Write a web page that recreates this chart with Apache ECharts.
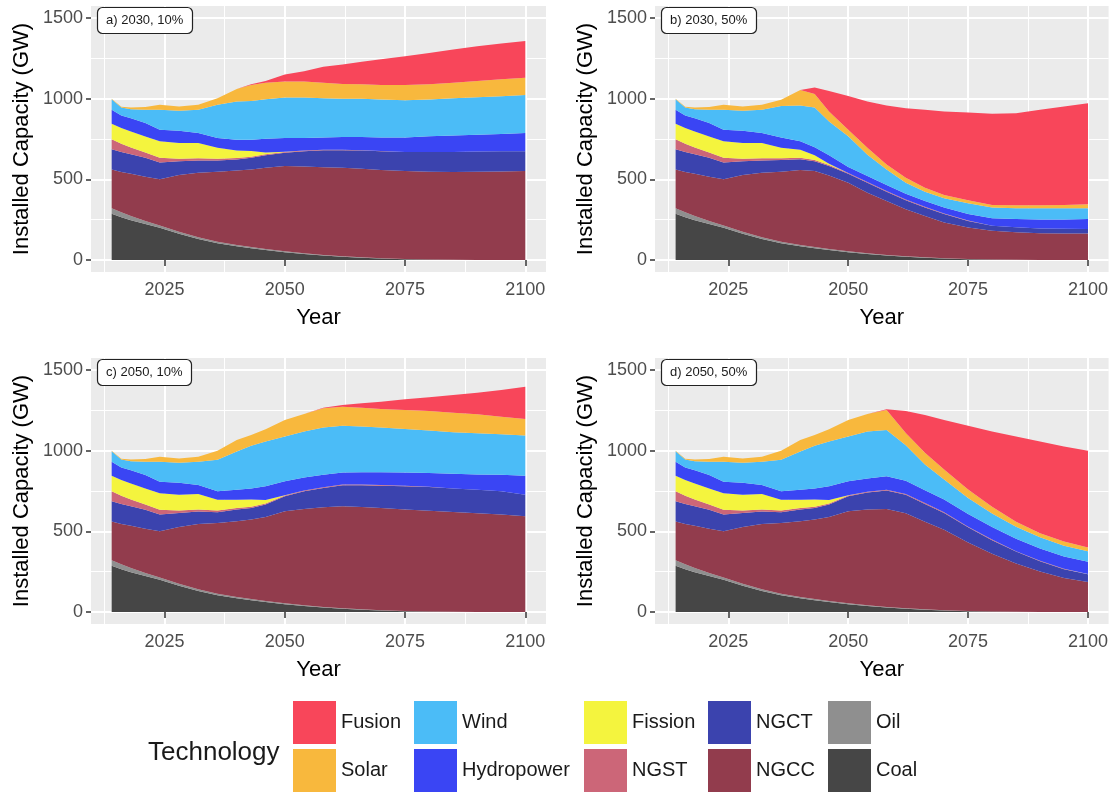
<!DOCTYPE html>
<html>
<head>
<meta charset="utf-8">
<script src="https://cdn.jsdelivr.net/npm/echarts@6/dist/echarts.min.js"></script>
<style>
  html, body { margin: 0; padding: 0; background: #fff; }
  #main { width: 1111px; height: 792px; }
</style>
</head>
<body>
<div id="main"></div>
<script>
// installed capacity per technology, GW
var years = [2014, 2016, 2018, 2021, 2024, 2028, 2032, 2036, 2040, 2043, 2046, 2050, 2054, 2058, 2062, 2066, 2070, 2075, 2080, 2085, 2090, 2095, 2100];

// coal and oil look the same in every panel
var coal = [286, 265, 246, 222, 200, 163, 130, 104, 85, 73, 61, 48, 37, 27, 19, 13, 8, 4, 2, 1, 0, 0, 0];
var oil = [35, 30, 26, 20, 14, 12, 10, 9, 8, 7, 6, 6, 5, 4, 3, 3, 2, 1, 1, 0, 0, 0, 0];

// a) 2030, 10%
var ngccA = [240, 250, 263, 274, 286, 351, 400, 434, 462, 481, 504, 528, 538, 544, 549, 549, 547, 546, 544, 544, 547, 549, 551];
var ngctA = [125, 125, 120, 117, 104, 86, 77, 70, 68, 72, 78, 82, 94, 105, 109, 113, 117, 119, 123, 125, 125, 125, 123];
var ngstA = [62, 50, 42, 33, 30, 16, 13, 11, 9, 7, 6, 5, 5, 4, 3, 2, 1, 0, 0, 0, 0, 0, 0];
var fissionA = [97, 98, 100, 100, 102, 97, 95, 67, 46, 35, 12, 2, 0, 0, 0, 0, 0, 0, 0, 0, 0, 0, 0];
var hydroA = [86, 77, 81, 83, 72, 76, 62, 61, 68, 71, 85, 85, 77, 76, 79, 82, 85, 90, 97, 101, 105, 107, 113];
var windA = [66, 50, 57, 83, 123, 124, 144, 206, 236, 240, 245, 251, 251, 243, 237, 237, 235, 230, 228, 232, 232, 234, 236];
var solarA = [3, 5, 10, 16, 31, 26, 31, 41, 78, 99, 102, 99, 99, 96, 92, 90, 90, 95, 94, 96, 101, 105, 107];
var fusionA = [0, 0, 0, 0, 0, 0, 0, 0, 0, 5, 11, 44, 64, 99, 121, 140, 160, 179, 195, 206, 215, 222, 228];

// b) 2030, 50%
var ngccB = [240, 250, 263, 274, 286, 351, 400, 434, 464, 471, 457, 425, 375, 335, 292, 257, 222, 196, 178, 170, 166, 164, 164];
var ngctB = [125, 125, 120, 117, 104, 86, 77, 73, 68, 61, 58, 55, 62, 57, 56, 52, 52, 41, 31, 31, 29, 29, 27];
var ngstB = [62, 50, 42, 33, 30, 16, 13, 11, 9, 7, 6, 5, 5, 5, 5, 4, 4, 3, 0, 0, 0, 0, 0];
var fissionB = [97, 98, 100, 100, 102, 97, 95, 64, 50, 30, 8, 0, 0, 0, 0, 0, 0, 0, 0, 0, 0, 0, 0];
var hydroB = [86, 77, 81, 83, 72, 76, 62, 65, 52, 50, 53, 38, 36, 36, 36, 37, 37, 39, 47, 51, 56, 58, 62];
var windB = [66, 50, 57, 83, 123, 124, 144, 195, 222, 246, 210, 190, 133, 97, 68, 57, 57, 67, 66, 68, 70, 70, 68];
var solarB = [3, 5, 10, 16, 31, 26, 31, 38, 96, 84, 62, 41, 42, 31, 31, 25, 21, 19, 16, 18, 18, 20, 24];
var fusionB = [0, 0, 0, 0, 0, 0, 0, 0, 0, 40, 127, 209, 287, 366, 431, 483, 518, 544, 565, 571, 592, 610, 627];

// c) 2050, 10%
var ngccC = [240, 250, 263, 274, 286, 352, 406, 439, 469, 493, 522, 570, 597, 618, 633, 635, 635, 630, 625, 619, 612, 604, 593];
var ngctC = [125, 125, 120, 117, 104, 86, 77, 66, 73, 72, 77, 93, 109, 120, 130, 134, 138, 144, 147, 146, 146, 144, 134];
var ngstC = [62, 50, 42, 33, 30, 16, 13, 11, 9, 7, 6, 5, 5, 5, 5, 5, 4, 3, 2, 0, 0, 0, 0];
var fissionC = [97, 98, 100, 100, 102, 97, 95, 67, 51, 45, 22, 2, 0, 0, 0, 0, 0, 0, 0, 0, 0, 0, 0];
var hydroC = [86, 77, 81, 83, 72, 75, 56, 52, 63, 69, 85, 86, 81, 77, 75, 77, 80, 83, 84, 91, 95, 103, 118];
var windC = [66, 50, 57, 83, 123, 124, 144, 196, 237, 264, 278, 278, 285, 293, 289, 283, 277, 270, 264, 258, 255, 251, 249];
var solarC = [3, 5, 10, 16, 31, 26, 31, 55, 72, 68, 76, 103, 109, 119, 119, 117, 115, 118, 122, 121, 118, 109, 103];
var fusionC = [0, 0, 0, 0, 0, 0, 0, 0, 0, 0, 0, 0, 0, 3, 11, 27, 45, 66, 84, 109, 134, 165, 200];

// d) 2050, 50%
var ngccD = [240, 250, 263, 274, 286, 352, 406, 439, 469, 493, 522, 570, 593, 608, 590, 544, 500, 425, 357, 299, 250, 210, 185];
var ngctD = [125, 125, 120, 117, 104, 86, 77, 66, 73, 72, 77, 93, 105, 114, 115, 110, 103, 95, 85, 74, 64, 55, 48];
var ngstD = [62, 50, 42, 33, 30, 16, 13, 11, 9, 7, 6, 5, 5, 5, 5, 5, 5, 4, 4, 3, 3, 2, 2];
var fissionD = [97, 98, 100, 100, 102, 97, 95, 67, 51, 45, 22, 2, 0, 0, 0, 0, 0, 0, 0, 0, 0, 0, 0];
var hydroD = [86, 77, 81, 83, 72, 75, 56, 52, 63, 69, 85, 86, 82, 83, 82, 80, 79, 78, 77, 77, 76, 76, 76];
var windD = [66, 50, 57, 83, 123, 124, 144, 196, 237, 264, 278, 278, 292, 288, 220, 160, 125, 100, 85, 75, 70, 68, 66];
var solarD = [3, 5, 10, 16, 31, 26, 31, 55, 72, 68, 76, 103, 109, 124, 76, 73, 62, 52, 42, 31, 25, 25, 23];
var fusionD = [0, 0, 0, 0, 0, 0, 0, 0, 0, 0, 0, 0, 0, 4, 137, 234, 307, 395, 466, 528, 569, 590, 600];

var xTicks = [2025, 2050, 2075, 2100];
var xMinorTicks = [2012.5, 2037.5, 2062.5, 2087.5];
var yTicks = [0, 500, 1000, 1500];
var yMinorTicks = [250, 750, 1250];

// stacking order, bottom first
var techs = ['Coal', 'Oil', 'NGCC', 'NGCT', 'NGST', 'Fission', 'Hydropower', 'Wind', 'Solar', 'Fusion'];
var colors = {
    Fusion: '#F8465A', Solar: '#F8B83D', Wind: '#4BBCF7', Hydropower: '#3A45F4', Fission: '#F4F43E',
    NGST: '#CC6678', NGCT: '#3B43AE', NGCC: '#923C4D', Oil: '#8F8F8F', Coal: '#464646'
};

var panels = [
    { label: 'a) 2030, 10%', left: 91, top: 6,
      data: { Coal: coal, Oil: oil, NGCC: ngccA, NGCT: ngctA, NGST: ngstA, Fission: fissionA, Hydropower: hydroA, Wind: windA, Solar: solarA, Fusion: fusionA } },
    { label: 'b) 2030, 50%', left: 655, top: 6,
      data: { Coal: coal, Oil: oil, NGCC: ngccB, NGCT: ngctB, NGST: ngstB, Fission: fissionB, Hydropower: hydroB, Wind: windB, Solar: solarB, Fusion: fusionB } },
    { label: 'c) 2050, 10%', left: 91, top: 358,
      data: { Coal: coal, Oil: oil, NGCC: ngccC, NGCT: ngctC, NGST: ngstC, Fission: fissionC, Hydropower: hydroC, Wind: windC, Solar: solarC, Fusion: fusionC } },
    { label: 'd) 2050, 50%', left: 655, top: 358,
      data: { Coal: coal, Oil: oil, NGCC: ngccD, NGCT: ngctD, NGST: ngstD, Fission: fissionD, Hydropower: hydroD, Wind: windD, Solar: solarD, Fusion: fusionD } }
];

var FONT = '"Liberation Sans", Arial, Helvetica, sans-serif';
var plain = function (v) { return String(v); };

var grids = [], xAxes = [], yAxes = [], series = [], titles = [];

panels.forEach(function (p, i) {
    grids.push({
        left: p.left, top: p.top, width: 455, height: 266,
        show: true, backgroundColor: '#EBEBEB', borderWidth: 0
    });

    // major x axis (carries the data)
    xAxes.push({
        type: 'value', gridIndex: i, min: 2009.7, max: 2104.3,
        name: 'Year', nameLocation: 'middle', nameGap: 35,
        nameTextStyle: { fontSize: 22, color: '#000', fontFamily: FONT },
        axisLine: { show: false },
        axisTick: { show: true, length: 6, customValues: xTicks, lineStyle: { color: '#333', width: 1.5 } },
        axisLabel: { customValues: xTicks, formatter: plain, color: '#4D4D4D', fontSize: 18, margin: 9, fontFamily: FONT },
        splitLine: { show: true, lineStyle: { color: '#fff', width: 2 } }
    });
    // minor x grid lines
    xAxes.push({
        type: 'value', gridIndex: i, min: 2009.7, max: 2104.3,
        axisLine: { show: false },
        axisTick: { show: false, customValues: xMinorTicks },
        axisLabel: { show: false },
        splitLine: { show: true, lineStyle: { color: '#fff', width: 1 } }
    });

    yAxes.push({
        type: 'value', gridIndex: i, min: -75, max: 1575,
        name: 'Installed Capacity (GW)', nameLocation: 'middle', nameGap: 58,
        nameTextStyle: { fontSize: 22, color: '#000', fontFamily: FONT },
        axisLine: { show: false },
        axisTick: { show: true, length: 5, customValues: yTicks, lineStyle: { color: '#333', width: 1.5 } },
        axisLabel: { customValues: yTicks, formatter: plain, color: '#4D4D4D', fontSize: 18, margin: 8, fontFamily: FONT },
        splitLine: { show: true, lineStyle: { color: '#fff', width: 2 } }
    });
    yAxes.push({
        type: 'value', gridIndex: i, min: -75, max: 1575,
        axisLine: { show: false },
        axisTick: { show: false, customValues: yMinorTicks },
        axisLabel: { show: false },
        splitLine: { show: true, lineStyle: { color: '#fff', width: 1 } }
    });

    techs.forEach(function (t) {
        var vals = p.data[t];
        series.push({
            name: t,
            type: 'line',
            xAxisIndex: 2 * i,
            yAxisIndex: 2 * i,
            stack: 'panel' + i,
            // capacity first, year second: ECharts stacks the first numeric dimension
            encode: { x: 1, y: 0 },
            data: years.map(function (y, k) { return [vals[k], y]; }),
            symbol: 'none',
            showSymbol: false,
            silent: true,
            color: colors[t],
            lineStyle: { width: 0 },
            areaStyle: { color: colors[t], opacity: 1 }
        });
    });

    titles.push({
        text: p.label,
        left: p.left + 6, top: p.top + 1,
        padding: [6, 9],
        backgroundColor: '#fff',
        borderColor: '#222', borderWidth: 1.2, borderRadius: 5,
        textStyle: { fontSize: 13, fontWeight: 'normal', color: '#1a1a1a', lineHeight: 15, fontFamily: FONT }
    });
});

titles.push({
    text: 'Technology', left: 143, top: 733,
    textStyle: { fontSize: 26, fontWeight: 'normal', color: '#1a1a1a', lineHeight: 30, fontFamily: FONT }
});

// legend: five columns of two keys
var legendCols = [['Fusion', 'Solar'], ['Wind', 'Hydropower'], ['Fission', 'NGST'], ['NGCT', 'NGCC'], ['Oil', 'Coal']];
var legendLefts = [293, 414, 584, 708, 828];
var legends = legendCols.map(function (col, i) {
    return {
        orient: 'vertical', left: legendLefts[i], top: 701, height: 92,
        padding: 0, itemGap: 5, itemWidth: 43, itemHeight: 43,
        selectedMode: false, icon: 'rect',
        textStyle: { fontSize: 20, color: '#1a1a1a', fontFamily: FONT },
        data: col.map(function (n) { return { name: n, itemStyle: { color: colors[n], borderWidth: 0 } }; })
    };
});

var chart = echarts.init(document.getElementById('main'));
chart.setOption({
    animation: false,
    textStyle: { fontFamily: FONT },
    title: titles,
    legend: legends,
    grid: grids,
    xAxis: xAxes,
    yAxis: yAxes,
    series: series
});
</script>
</body>
</html>
